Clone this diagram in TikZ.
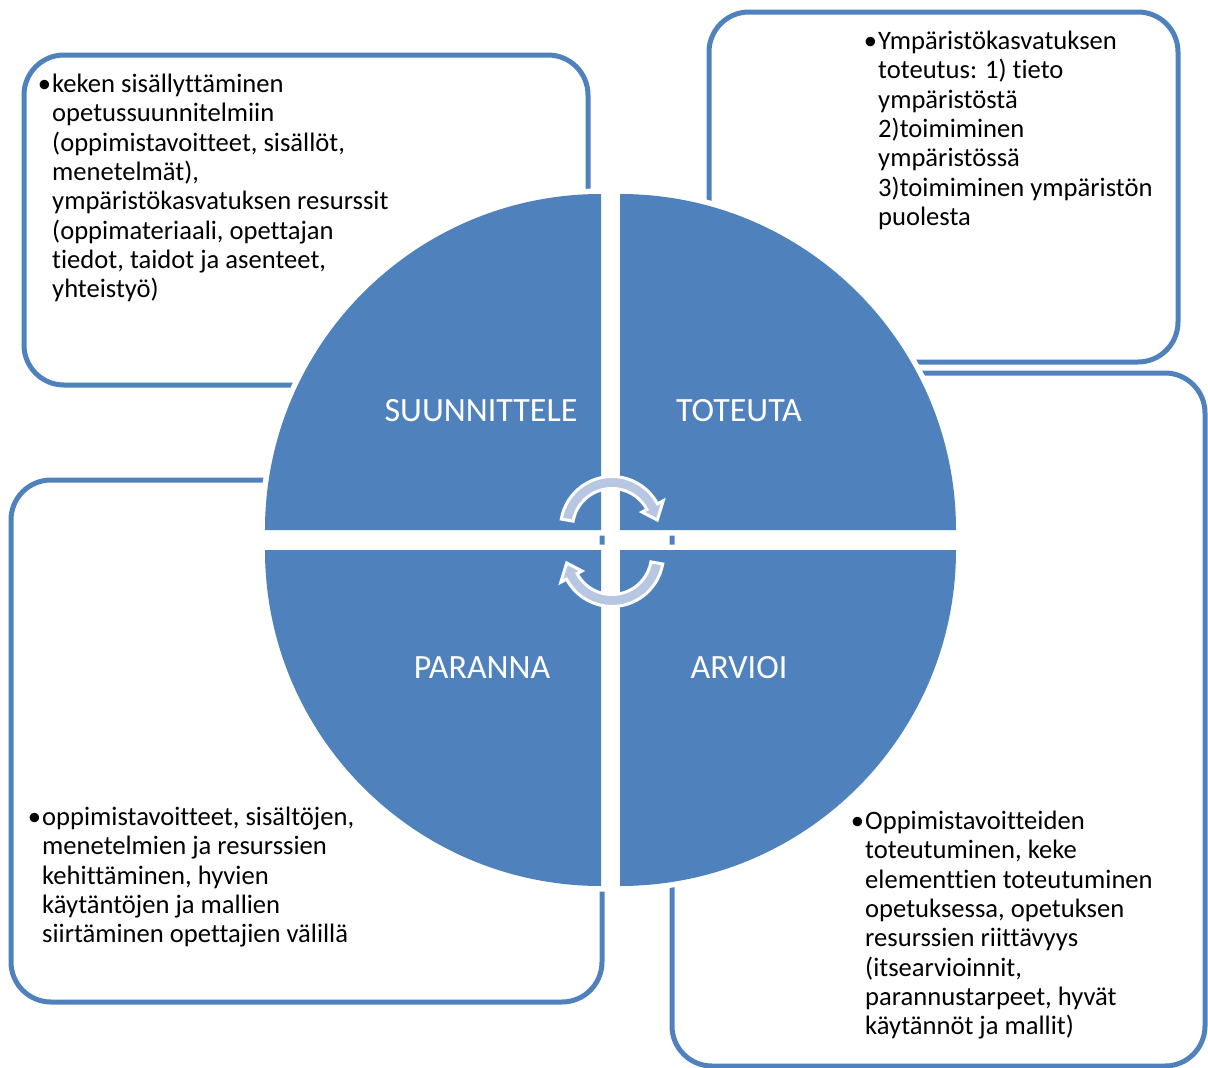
\documentclass[tikz,border=0pt]{standalone}
\usepackage{fontspec}
\setmainfont{Carlito}[Ligatures=NoCommon]
\definecolor{quadblue}{RGB}{79,129,189}
\definecolor{arrowblue}{RGB}{183,199,226}

\begin{document}
\begin{tikzpicture}[x=1pt,y=-1pt]
        \tikzstyle{infobox}=[draw=quadblue, line width=5pt, rounded corners=40pt]
        \tikzstyle{quarter}=[fill=quadblue, preaction={draw=white, line width=11pt}]
        \tikzstyle{phase}=[text=white, inner sep=0pt, font=\fontsize{34}{40}\selectfont]
        \tikzstyle{bullettext}=[anchor=north west, inner sep=0pt, align=left, font=\fontsize{26.6}{29.3}\selectfont]
        \tikzstyle{cyclearrow}=[fill=arrowblue, draw=white, line width=3pt]
        \useasboundingbox (0,0) rectangle (1208,1068);
        % boxes behind the circle
        \draw[infobox] (24,55) rectangle (588,385);
        \draw[infobox] (709,12) rectangle (1178,362);
        \draw[infobox] (672,373) rectangle (1205,1066);
        \draw[infobox] (11,480) rectangle (602,1002);
        % the four quarters
        \foreach \cx/\cy/\a in {601/530/180, 620/530/270, 620/550/0, 601/550/90}
          \path[quarter] (\cx,\cy) -- ++(\a:336) arc[start angle=\a, end angle=\a+90, radius=336] -- cycle;
        \node[phase] (plan) at (481,411) {SUUNNITTELE};
        \node[phase] (do) at (739,411) {TOTEUTA};
        \node[phase] (improve) at (482,668) {PARANNA};
        \node[phase] (check) at (739,668) {ARVIOI};
        % cycle arrows
        \path[cyclearrow, shift={(612,528)}] (-170:51.5) arc[start angle=-170, end angle=-28, radius=51.5]
          -- (-28:58) -- (-10:46) -- (-28:34) -- (-28:39.5) arc[start angle=-28, end angle=-170, radius=39.5] -- cycle;
        \path[cyclearrow, shift={(612,555)}] (10:51.5) arc[start angle=10, end angle=152, radius=51.5]
          -- (152:58) -- (170:46) -- (152:34) -- (152:39.5) arc[start angle=152, end angle=10, radius=39.5] -- cycle;
        % texts
        \node[bullettext] (plantext) at (52,74) {\llap{•\hspace{1pt}}keken sisällyttäminen\\opetussuunnitelmiin\\(oppimistavoitteet, sisällöt,\\menetelmät),\\ympäristökasvatuksen resurssit\\(oppimateriaali, opettajan\\tiedot, taidot ja asenteet,\\yhteistyö)};
        \node[bullettext] (dotext) at (878,31) {\llap{•\hspace{1pt}}Ympäristökasvatuksen\\toteutus: 1) tieto\\ympäristöstä\\2)toimiminen\\ympäristössä\\3)toimiminen ympäristön\\puolesta};
        \node[bullettext] (improvetext) at (42,807) {\llap{•\hspace{1pt}}oppimistavoitteet, sisältöjen,\\menetelmien ja resurssien\\kehittäminen, hyvien\\käytäntöjen ja mallien\\siirtäminen opettajien välillä};
        \node[bullettext] (checktext) at (865,811) {\llap{•\hspace{1pt}}Oppimistavoitteiden\\toteutuminen, keke\\elementtien toteutuminen\\opetuksessa, opetuksen\\resurssien riittävyys\\(itsearvioinnit,\\parannustarpeet, hyvät\\käytännöt ja mallit)};
\end{tikzpicture}
\end{document}
